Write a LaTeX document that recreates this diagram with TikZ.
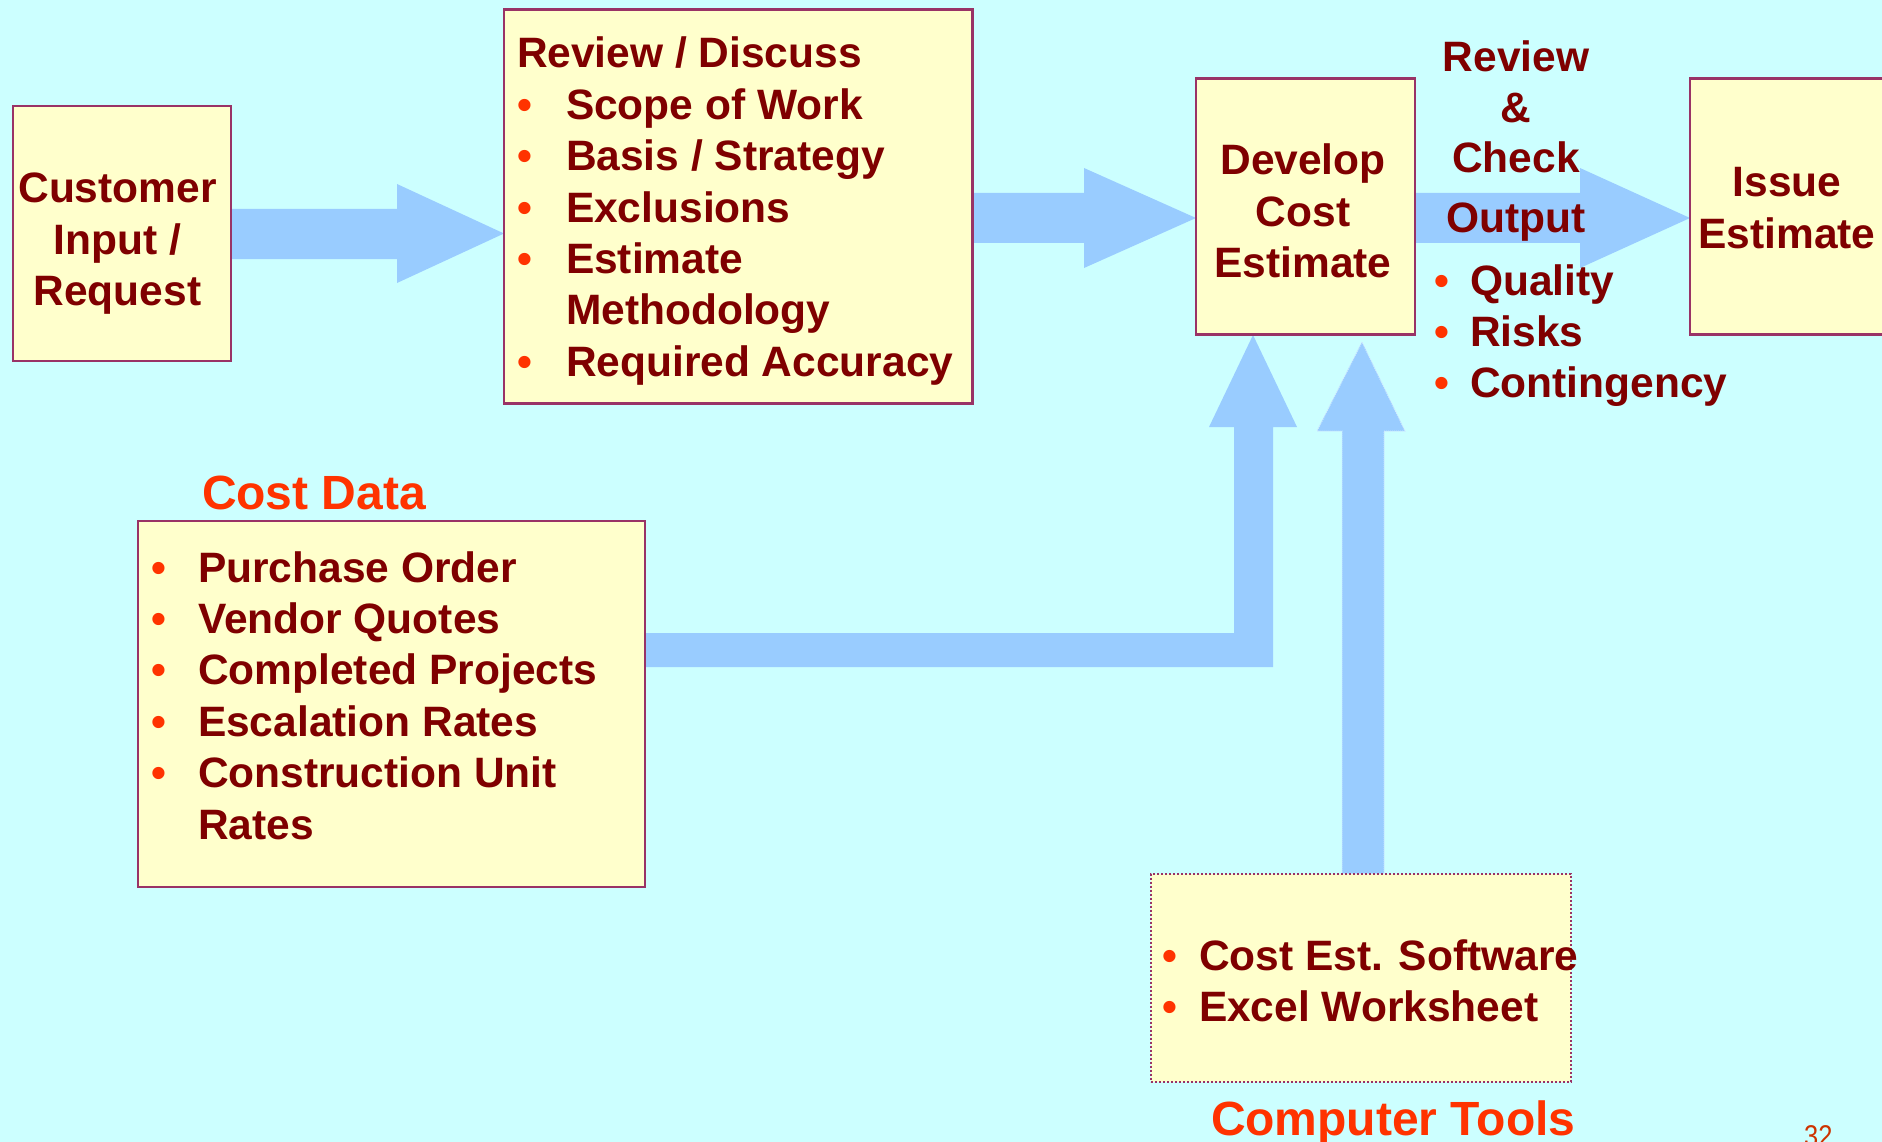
\documentclass[tikz,border=0pt]{standalone}
\usepackage{fontspec}
\setmainfont{Liberation Sans}
\usepackage{graphicx}
\definecolor{bgc}{HTML}{CCFFFF}
\definecolor{boxfill}{HTML}{FFFFCC}
\definecolor{boxline}{HTML}{993366}
\definecolor{txt}{HTML}{7F0000}
\definecolor{bulc}{HTML}{FF3300}
\definecolor{arrowc}{HTML}{99CCFF}
\definecolor{pagec}{HTML}{CC3300}
\newcommand\centerlines[1]{\vtop{\baselineskip=51.4pt\lineskiplimit=-100pt\halign{\hfil##\hfil\cr#1\crcr}}}
\newcommand\leftlines[1]{\vtop{\baselineskip=51.4pt\lineskiplimit=-100pt\halign{##\hfil\cr#1\crcr}}}
\newcommand\bul[1]{\makebox[#1][l]{\textcolor{bulc}{•}}}
\pgfdeclarelayer{bgfill}
\pgfdeclarelayer{arrows}
\pgfsetlayers{bgfill,arrows,main}
\tikzset{
  box/.style={draw=boxline, fill=boxfill, line width=2.4pt, inner sep=0pt, outer sep=0pt},
  dotbox/.style={box, line width=2pt, dotted},
  txtnode/.style={inner sep=0pt, outer sep=0pt, text=txt, font=\fontsize{42.5}{51.4}\selectfont\bfseries},
  lbl/.style={inner sep=0pt, outer sep=0pt, text=bulc, font=\fontsize{48}{56}\selectfont\bfseries},
  blk/.style={fill=arrowc},
  blkdot/.style={fill=arrowc, draw=white!55!arrowc, densely dotted, line width=1pt}
}
\begin{document}
\begin{tikzpicture}[x=1pt,y=-1pt]
\useasboundingbox (0,0) rectangle (1882,1142);
\begin{pgfonlayer}{bgfill}
\fill[bgc] (0,0) rectangle (1882,1142);
\end{pgfonlayer}

% boxes
\node[box, minimum width=218pt, minimum height=255pt] (cust) at (122,233.5) {};
\node[box, minimum width=468.5pt, minimum height=394pt] (rev) at (738.25,206.5) {};
\node[box, minimum width=219pt, minimum height=256pt] (dev) at (1305.5,206.5) {};
\node[box, minimum width=210pt, minimum height=256pt] (iss) at (1795,206.5) {};
\node[box, minimum width=507pt, minimum height=366pt] (cdata) at (391.5,704) {};
\node[dotbox, minimum width=420pt, minimum height=208pt] (ctools) at (1361,977.5) {};

% block arrows (connectors)
\begin{pgfonlayer}{arrows}
\fill[blk] (cust.east |- 0,209) -- (397,209) -- (397,184) -- (rev.west |- 0,233.5)
  -- (397,283) -- (397,259) -- (cust.east |- 0,259) -- cycle;
\fill[blk] (rev.east |- 0,193) -- (1084,193) -- (1084,168) -- (dev.west |- 0,218)
  -- (1084,268) -- (1084,243) -- (rev.east |- 0,243) -- cycle;
\fill[blk] (dev.east |- 0,193) -- (1580,193) -- (1580,168) -- (iss.west |- 0,218)
  -- (1580,268) -- (1580,243) -- (dev.east |- 0,243) -- cycle;
\fill[blk] (cdata.east |- 0,633) -- (1234,633) -- (1234,427) -- (1209,427)
  -- (1253,335) -- (1297,427) -- (1273,427) -- (1273,667) -- (cdata.east |- 0,667) -- cycle;
\coordinate (tooltip) at (1362,342);
\draw[blkdot] (1342,0 |- ctools.north) -- (1342,431) -- (1317,431) -- (tooltip)
  -- (1405,431) -- (1384,431) -- (1384,0 |- ctools.north) -- cycle;
\end{pgfonlayer}

% texts
\node[txtnode, anchor=base] (custtxt) at (117.5,203) {\centerlines{Customer\cr Input /\cr Request}};
\node[txtnode, anchor=base west] (revtxt) at (517,68) {\leftlines{Review / Discuss\cr
  \bul{49pt}Scope of Work\cr
  \bul{49pt}Basis / Strategy\cr
  \bul{49pt}Exclusions\cr
  \bul{49pt}Estimate\cr
  \hskip49pt Methodology\cr
  \bul{49pt}Required Accuracy}};
\node[txtnode, anchor=base] (devtxt) at (1303,175) {\centerlines{Develop\cr Cost\cr Estimate}};
\node[txtnode, anchor=base] (isstxt) at (1787,197) {\centerlines{Issue\cr Estimate}};
\node[txtnode, anchor=base] (rctxt) at (1516,72) {\vtop{\baselineskip=50.5pt\halign{\hfil#\hfil\cr Review\cr \&\cr Check\crcr}}};
\node[txtnode, anchor=base] (outtxt) at (1516,233) {Output};
\node[txtnode, anchor=base west] (outlist) at (1434,295) {\leftlines{\bul{36pt}Quality\cr
  \bul{36pt}Risks\cr
  \bul{36pt}Contingency}};
\node[lbl, anchor=base west] (cdlbl) at (202,509) {Cost Data};
\node[txtnode, anchor=base west] (cdlist) at (151,582) {\leftlines{\bul{47pt}Purchase Order\cr
  \bul{47pt}Vendor Quotes\cr
  \bul{47pt}Completed Projects\cr
  \bul{47pt}Escalation Rates\cr
  \bul{47pt}Construction Unit\cr
  \hskip47pt Rates}};
\node[txtnode, anchor=base west] (ctlist) at (1162,970) {\leftlines{\bul{37pt}Cost Est. Software\cr
  \bul{37pt}Excel Worksheet}};
\node[lbl, anchor=base west] (ctlbl) at (1211,1135) {Computer Tools};
\node[inner sep=0pt, anchor=base west, text=pagec, font=\fontsize{30}{34}\selectfont] (pagenum) at (1804,1146) {\scalebox{0.85}[1]{32}};
\end{tikzpicture}
\end{document}
